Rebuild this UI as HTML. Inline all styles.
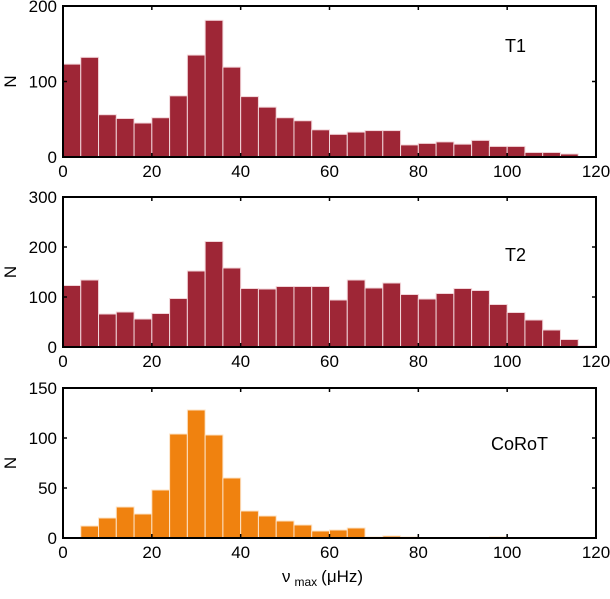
<!DOCTYPE html>
<html><head><meta charset="utf-8"><style>
body{margin:0;background:#fff;font-family:"Liberation Sans",Arial,sans-serif}
svg text{font-family:"Liberation Sans",Arial,sans-serif;font-size:17px;fill:#000}
</style></head><body>
<svg id="chart" width="610" height="594" viewBox="0 0 610 594"></svg>
<script>
const binEdges = [0,4,8,12,16,20,24,28,32,36,40,44,48,52,56,60,64,68,72,76,80,84,88,92,96,100,104,108,112,116];
const t1Counts = [123,132,56,51,45,52,81,135,181,119,80,66,52,48,36,30,33,35,35,16,18,20,17,22,14,14,6,6,4,0];
const t2Counts = [123,134,66,70,56,67,97,152,211,158,117,116,121,121,121,94,134,118,128,105,96,107,117,113,85,69,54,34,15,2];
const corotCounts = [0,12,20,31,24,48,104,128,103,60,27,22,17,13,7,8,10,1,2,1,0,0,0,0,1,0,0,0,0,0];
const xTicks = [0,20,40,60,80,100,120];
const t1YTicks = [0,100,200];
const t2YTicks = [0,100,200,300];
const corotYTicks = [0,50,100,150];
const binWidth = 4;

const NS="http://www.w3.org/2000/svg";
const svg=document.getElementById('chart');
function mk(tag,attrs,parent){const e=document.createElementNS(NS,tag);for(const k in attrs)e.setAttribute(k,attrs[k]);(parent||svg).appendChild(e);return e;}
const X0=63,X1=596;
const xs=v=>X0+(v/120)*(X1-X0);
const panels=[
 {name:'t1',top:6,bottom:157,ymax:200,counts:t1Counts,ticks:t1YTicks,color:'#9e2636',edge:'#f2d6da',label:'T1',lx:505,ly:52},
 {name:'t2',top:197,bottom:347,ymax:300,counts:t2Counts,ticks:t2YTicks,color:'#9e2636',edge:'#f2d6da',label:'T2',lx:505,ly:261},
 {name:'corot',top:388,bottom:538,ymax:150,counts:corotCounts,ticks:corotYTicks,color:'#f0820f',edge:'#fde3c6',label:'CoRoT',lx:491,ly:450}
];
panels.forEach(p=>{
 const g=mk('g',{});
 
 
 const ys=v=>p.bottom-(v/p.ymax)*(p.bottom-p.top);
 p.counts.forEach((c,i)=>{
  if(c<=0)return;
  const r=mk('rect',{x:xs(binEdges[i]),y:ys(c),width:xs(binEdges[i]+binWidth)-xs(binEdges[i]),height:p.bottom-ys(c),fill:p.color,stroke:p.edge,'stroke-width':1},g);
  
  
 });
 const f=mk('rect',{x:X0,y:p.top,width:X1-X0,height:p.bottom-p.top,fill:'none',stroke:'#000','stroke-width':2},g);
 
 
 xTicks.forEach(t=>{
  const x=xs(t);
  mk('line',{x1:x,x2:x,y1:p.bottom,y2:p.bottom-4,stroke:'#000','stroke-width':1.5},g);
  mk('line',{x1:x,x2:x,y1:p.top,y2:p.top+4,stroke:'#000','stroke-width':1.5},g);
  const tx=mk('text',{x:x,y:p.bottom+20,'text-anchor':'middle'},g);
  tx.textContent=t;
  
  
 });
 p.ticks.forEach(t=>{
  const y=ys(t);
  mk('line',{x1:X0,x2:X0+4,y1:y,y2:y,stroke:'#000','stroke-width':1.5},g);
  mk('line',{x1:X1,x2:X1-4,y1:y,y2:y,stroke:'#000','stroke-width':1.5},g);
  const tx=mk('text',{x:57,y:y+6,'text-anchor':'end'},g);
  tx.textContent=t;
  
  
 });
 const yl=mk('text',{x:0,y:0,'text-anchor':'middle',transform:`translate(16,${(p.top+p.bottom)/2}) rotate(-90)`},g);
 yl.textContent='N';
 
 
 const lb=mk('text',{x:p.lx,y:p.ly,'font-size':'18px',style:'font-size:18px'},g);
 lb.textContent=p.label;
 
 
});
const xt=mk('text',{x:282,y:582});


const s1=mk('tspan',{},xt);s1.textContent='ν';
const s2=mk('tspan',{dy:4,'font-size':'12px',dx:4},xt);s2.textContent='max';
const s3=mk('tspan',{dy:-4,dx:4},xt);s3.textContent='(μHz)';
</script>
</body></html>
